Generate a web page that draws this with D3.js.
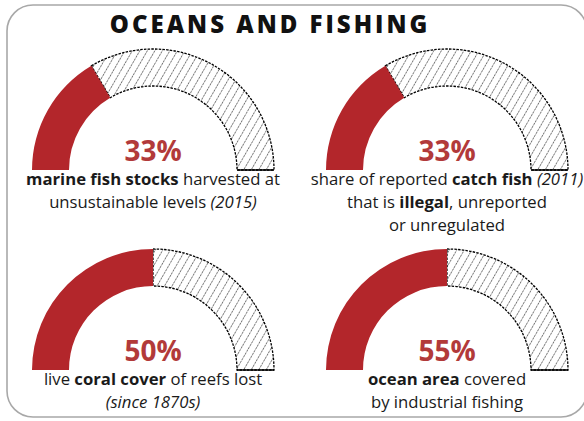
<!DOCTYPE html>
<html>
<head>
<meta charset="utf-8">
<script src="https://cdn.jsdelivr.net/npm/d3@7"></script>
<style>
  html, body { margin: 0; padding: 0; background: #fff; }
  svg { display: block; }
</style>
</head>
<body>
<svg id="chart" width="584" height="421"></svg>
<script>
// ---- data ----
const title = "OCEANS AND FISHING";
const indicators = ["fish stocks", "illegal catch", "coral cover", "ocean area"];
const percentLabels = ["33%", "33%", "50%", "55%"];
// share of the gauge that is filled red, as drawn in the picture
const gaugeFill = [33, 33, 50, 50];
const panelCol = [0, 1, 0, 1];
const panelRow = [0, 0, 1, 1];
// description lines: segments of [text, style] (b = bold, i = italic)
const descriptions = [
  [[["marine fish stocks", "b"], [" harvested at", ""]],
   [["unsustainable levels ", ""], ["(2015)", "i"]]],
  [[["share of reported ", ""], ["catch fish", "b"], [" (2011)", "i"]],
   [["that is ", ""], ["illegal", "b"], [", unreported", ""]],
   [["or unregulated", ""]]],
  [[["live ", ""], ["coral cover", "b"], [" of reefs lost", ""]],
   [["(since 1870s)", "i"]]],
  [[["ocean area", "b"], [" covered", ""]],
   [["by industrial fishing", ""]]]
];

// ---- drawing ----
const svg = d3.select("#chart");
const font = "'Open Sans', 'Noto Sans', sans-serif";

const defs = svg.append("defs");
const pat = defs.append("pattern")
  .attr("id", "hatch")
  .attr("patternUnits", "userSpaceOnUse")
  .attr("width", 6.5).attr("height", 6.5)
  .attr("patternTransform", "rotate(30)");
pat.append("line")
  .attr("x1", 0).attr("y1", 0).attr("x2", 0).attr("y2", 6.5)
  .attr("stroke", "#000").attr("stroke-width", 1)
  .attr("stroke-dasharray", "2.4,0.9");

// frame
svg.append("rect")
  .attr("x", 7).attr("y", 5)
  .attr("width", 580).attr("height", 412)
  .attr("rx", 26).attr("ry", 26)
  .attr("fill", "none")
  .attr("stroke", "#a8a8a8").attr("stroke-width", 1.6);

// title
svg.append("text")
  .attr("x", 270).attr("y", 33)
  .attr("text-anchor", "middle")
  .attr("font-family", font)
  .attr("font-weight", 800)
  .attr("font-size", 24)
  .attr("letter-spacing", 3)
  .attr("fill", "#111")
  .text(title);

const xCol = d3.scalePoint().domain([0, 1]).range([153, 447]);
const yRow = d3.scalePoint().domain([0, 1]).range([170, 370]);
const angle = d3.scaleLinear().domain([0, 100]).range([-Math.PI / 2, Math.PI / 2]);
const R = 121, r = 84;
const arc = d3.arc().innerRadius(r).outerRadius(R);

const panels = svg.selectAll("g.panel")
  .data(indicators.map((k, i) => ({
    key: k, label: percentLabels[i], fill: gaugeFill[i],
    cx: xCol(panelCol[i]), cy: yRow(panelRow[i]), desc: descriptions[i]
  })))
  .join("g")
  .attr("class", "panel")
  .attr("transform", d => `translate(${d.cx},${d.cy})`);

// hatched remainder
panels.append("path")
  .attr("d", d => arc({ startAngle: angle(d.fill), endAngle: angle(100) }))
  .attr("fill", "url(#hatch)")
  .attr("stroke", "#000")
  .attr("stroke-width", 1.3)
  .attr("stroke-dasharray", "2.5,1.2");

// solid base of remainder
panels.append("line")
  .attr("x1", r).attr("x2", R)
  .attr("y1", 0).attr("y2", 0)
  .attr("stroke", "#000").attr("stroke-width", 1.4);

// red filled share
panels.append("path")
  .attr("d", d => arc({ startAngle: angle(0), endAngle: angle(d.fill) }))
  .attr("fill", "#b3262b");

// percentage label
panels.append("text")
  .attr("x", 0).attr("y", -9)
  .attr("text-anchor", "middle")
  .attr("font-family", font)
  .attr("font-weight", 700)
  .attr("font-size", 28)
  .attr("fill", "#b23a3a")
  .text(d => d.label);

// descriptions
panels.each(function (d) {
  const g = d3.select(this);
  d.desc.forEach((line, li) => {
    const t = g.append("text")
      .attr("x", 0).attr("y", 15 + li * 23)
      .attr("text-anchor", "middle")
      .attr("font-family", font)
      .attr("font-size", 16.7)
      .attr("fill", "#1a1a1a");
    line.forEach(([txt, st]) => {
      t.append("tspan")
        .attr("font-weight", st === "b" ? 700 : 400)
        .attr("font-style", st === "i" ? "italic" : "normal")
        .text(txt);
    });
  });
});
</script>
</body>
</html>
